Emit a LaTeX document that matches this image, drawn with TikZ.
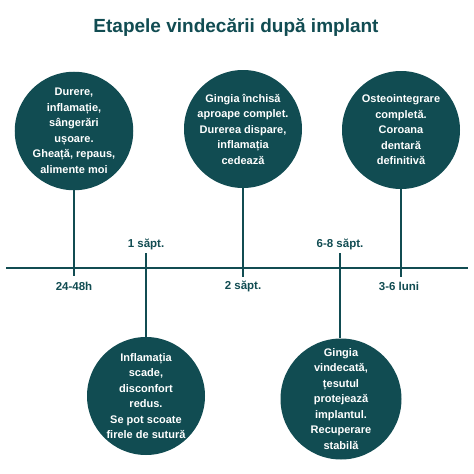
\documentclass[tikz,border=0pt]{standalone}
\usepackage{fontspec}
\setmainfont{Liberation Sans}
\definecolor{teal}{RGB}{17,76,82}
\begin{document}
\begin{tikzpicture}[x=1pt,y=-1pt,
  stage/.style={circle,fill=teal,minimum size=118pt,inner sep=0pt,text=white,
    font=\bfseries\fontsize{11}{15.5}\selectfont,align=center},
  lbl/.style={text=teal,font=\bfseries\fontsize{11.5}{13}\selectfont},
  conn/.style={draw=teal,line width=1.6pt}]
\useasboundingbox[fill=white] (0,0) rectangle (474,474);
\node[text=teal,font=\bfseries\fontsize{19}{22}\selectfont] (title) at (236,27) {Etapele vindecării după implant};
\coordinate (axL) at (6,268);
\coordinate (axR) at (468,268);
\draw[conn] (axL) -- (axR);
% top stages
\node[stage] (s1) at (74,131) {Durere,\\inflamație,\\sângerări\\ușoare.\\Gheață, repaus,\\alimente moi};
\node[stage] (s3) at (243,129) {Gingia închisă\\aproape complet.\\Durerea dispare,\\inflamația\\cedează};
\node[stage] (s5) at (401,130) {Osteointegrare\\completă.\\Coroana\\dentară\\definitivă};
% bottom stages
\node[stage] (s2) at (146,396) {Inflamația\\scade,\\disconfort\\redus.\\Se pot scoate\\firele de sutură};
\node[stage,minimum size=121pt] (s4) at (341,399) {Gingia\\vindecată,\\țesutul\\protejează\\implantul.\\Recuperare\\stabilă};
% connector ends
\coordinate (e1) at (74,276);
\coordinate (e3) at (243,277);
\coordinate (e5) at (401,277);
\coordinate (e2) at (146,253);
\coordinate (e4) at (340,253);
\draw[conn] (s1.south) -- (e1);
\draw[conn] (s3.south) -- (e3);
\draw[conn] (s5.south) -- (e5);
\draw[conn] (e2) -- (s2.north);
\draw[conn] (e4) -- (e4 |- s4.north);
% labels
\node[lbl] (l1) at (74,286) {24-48h};
\node[lbl] (l3) at (243,286) {2 săpt.};
\node[lbl] (l5) at (399,286) {3-6 luni};
\node[lbl] (l2) at (146,244) {1 săpt.};
\node[lbl] (l4) at (340,244) {6-8 săpt.};
\end{tikzpicture}
\end{document}
